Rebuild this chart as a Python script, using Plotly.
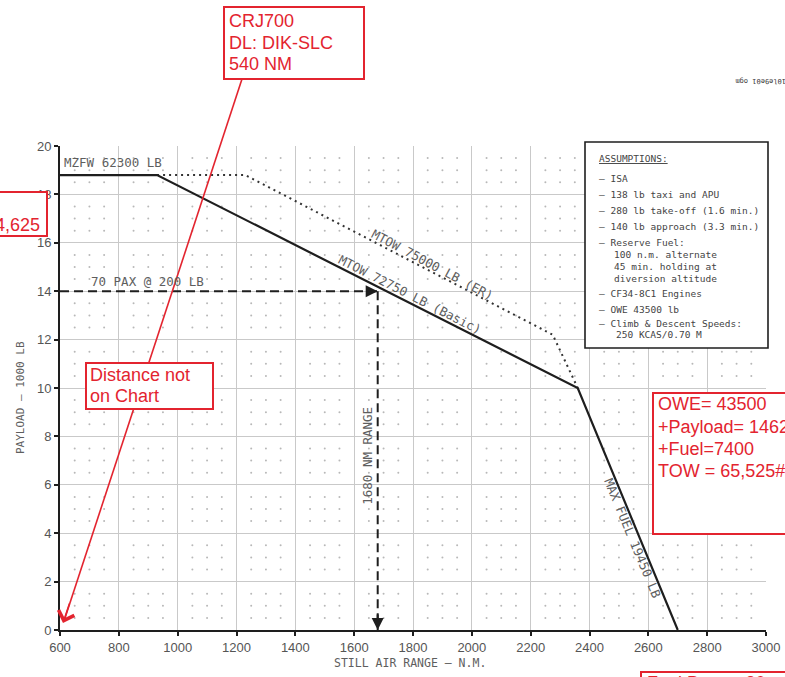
import plotly.graph_objects as go

# Payload-range envelope, basic MTOW 72750 lb
basic_range_nm = [600, 930, 2360, 2700]
basic_payload_klb = [18.8, 18.8, 10.0, 0.0]

# Payload-range envelope, ER MTOW 75000 lb
er_range_nm = [930, 1230, 2275, 2360]
er_payload_klb = [18.8, 18.8, 12.2, 10.0]

# 70 passengers at 200 lb each, read across to range
pax_payload_klb = 14.0
pax_range_nm = 1680

x_ticks = list(range(600, 3001, 200))
y_ticks = list(range(0, 21, 2))

assumption_lines = [
    ("<u>ASSUMPTIONS:</u>", 597, 158),
    ("– ISA", 597, 178),
    ("– 138 lb taxi and APU", 597, 194),
    ("– 280 lb take-off (1.6 min.)", 597, 210),
    ("– 140 lb approach (3.3 min.)", 597, 226),
    ("– Reserve Fuel:", 597, 242),
    ("100 n.m. alternate", 612, 254),
    ("45 min. holding at", 612, 266),
    ("diversion altitude", 612, 278),
    ("– CF34-8C1 Engines", 597, 293),
    ("– OWE 43500 lb", 597, 309),
    ("– Climb & Descent Speeds:", 597, 323),
    ("250 KCAS/0.70 M", 614, 334),
]

W, H = 785, 677
L, R, T, B = 60, 766, 146, 630
RED = "#e3242f"
CAD_FONT = "DejaVu Sans Mono"
CAD_GREY = "#5e5e5e"


def px(xp):
    return (xp - L) / (R - L)


def py(yp):
    return (B - yp) / (B - T)


fig = go.Figure()

# background dot grid every 50 NM / 500 lb between the major lines
dot_x, dot_y = [], []
for xv in range(650, 3000, 50):
    if (xv - 600) % 200 == 0:
        continue
    for k in range(1, 40):
        if k % 4 == 0:
            continue
        dot_x.append(xv)
        dot_y.append(k / 2)
fig.add_trace(go.Scatter(x=dot_x, y=dot_y, mode="markers",
                         marker=dict(size=2, color="#b8b8b8"),
                         hoverinfo="skip", showlegend=False))

fig.add_trace(go.Scatter(x=er_range_nm, y=er_payload_klb, mode="lines",
                         line=dict(color="#333", width=2, dash="2px,4px"),
                         showlegend=False))
fig.add_trace(go.Scatter(x=basic_range_nm, y=basic_payload_klb, mode="lines",
                         line=dict(color="#1e1e1e", width=2.2),
                         showlegend=False))

# 70 PAX read-across
fig.add_trace(go.Scatter(x=[600, pax_range_nm], y=[pax_payload_klb, pax_payload_klb],
                         mode="lines", line=dict(color="#1e1e1e", width=2, dash="9px,5px"),
                         showlegend=False))
fig.add_trace(go.Scatter(x=[pax_range_nm, pax_range_nm], y=[pax_payload_klb, 0],
                         mode="lines", line=dict(color="#1e1e1e", width=2, dash="9px,5px"),
                         showlegend=False))

shapes = []
# assumptions panel
shapes.append(dict(type="rect", xref="paper", yref="paper",
                   x0=px(585), x1=px(768), y0=py(348), y1=py(142),
                   line=dict(color="#1e1e1e", width=1.6), fillcolor="white", layer="above"))
# red pointer line
shapes.append(dict(type="line", xref="paper", yref="paper",
                   x0=px(242), y0=py(79), x1=px(65), y1=py(618),
                   line=dict(color=RED, width=1.6), layer="above"))


def red_box(x0, y0, x1, y1):
    shapes.append(dict(type="rect", xref="paper", yref="paper",
                       x0=px(x0), x1=px(x1), y0=py(y1), y1=py(y0),
                       line=dict(color=RED, width=2), fillcolor="white", layer="above"))


red_box(224, 7, 364, 79)
red_box(86, 363, 213, 409)
red_box(-20, 192, 47, 236)
red_box(653, 393, 900, 534)
red_box(641, 672, 900, 720)

ann = []


def cad_label(text, x, y, angle=0, size=12.5, xanchor="center"):
    ann.append(dict(text=text, x=x, y=y, xref="x", yref="y", showarrow=False,
                    textangle=angle, xanchor=xanchor, yanchor="middle",
                    font=dict(family=CAD_FONT, size=size, color=CAD_GREY)))


cad_label("MZFW 62300 LB", 607, 19.32, xanchor="left")
cad_label("70 PAX @ 200 LB", 896, 14.42)
cad_label("MTOW 75000 LB (ER)", 1865, 15.12, angle=28)
cad_label("MTOW 72750 LB (Basic)", 1790, 13.86, angle=27)
cad_label("MAX FUEL 19450 LB", 2548, 3.8, angle=67.5)
cad_label("1680 NM RANGE", 1647, 7.2, angle=-90)

# arrowheads on the read-across
ann.append(dict(x=pax_range_nm, y=pax_payload_klb, ax=pax_range_nm - 40, ay=pax_payload_klb,
                axref="x", ayref="y", xref="x", yref="y", text="", showarrow=True,
                arrowhead=2, arrowsize=1.2, arrowwidth=2, arrowcolor="#1e1e1e"))
ann.append(dict(x=pax_range_nm, y=0, ax=pax_range_nm, ay=0.7,
                axref="x", ayref="y", xref="x", yref="y", text="", showarrow=True,
                arrowhead=2, arrowsize=1.2, arrowwidth=2, arrowcolor="#1e1e1e"))

# axis titles
ann.append(dict(text="PAYLOAD – 1000 LB", x=px(20), y=py(398), xref="paper", yref="paper",
                xanchor="center", yanchor="middle", showarrow=False, textangle=-90,
                font=dict(family=CAD_FONT, size=11, color=CAD_GREY)))
ann.append(dict(text="STILL AIR RANGE – N.M.", x=px(410), y=py(663), xref="paper", yref="paper",
                xanchor="center", yanchor="middle", showarrow=False,
                font=dict(family=CAD_FONT, size=11.5, color=CAD_GREY)))

for text, xp, yp in assumption_lines:
    ann.append(dict(text=text, x=px(xp), y=py(yp), xref="paper", yref="paper",
                    xanchor="left", yanchor="middle", showarrow=False,
                    font=dict(family=CAD_FONT, size=9.5, color="#444")))

# drawing reference code, printed upside down
ann.append(dict(text="10le9e01 ogm", x=px(761), y=py(81), xref="paper", yref="paper",
                xanchor="center", yanchor="middle", showarrow=False, textangle=180,
                font=dict(family=CAD_FONT, size=7, color="#333")))


def red_text(text, xp, yp, xanchor="left"):
    ann.append(dict(text=text, x=px(xp), y=py(yp), xref="paper", yref="paper",
                    xanchor=xanchor, yanchor="middle", showarrow=False,
                    font=dict(family="Liberation Sans", size=18, color=RED)))


red_text("CRJ700", 227, 21)
red_text("DL: DIK-SLC", 227, 43)
red_text("540 NM", 227, 64)
red_text("Distance not", 88, 375)
red_text("on Chart", 88, 396)
red_text("14,625", 42, 225, xanchor="right")
red_text("OWE= 43500", 656, 404)
red_text("+Payload= 14625", 656, 427)
red_text("+Fuel=7400", 656, 449)
red_text("TOW = 65,525#", 656, 471)
red_text("Fuel Burn = 30", 645, 683)

# arrowhead at the end of the red pointer
ann.append(dict(x=px(63), y=py(623), xref="paper", yref="paper", text="", showarrow=True,
                ax=7, ay=-21, arrowhead=4, arrowsize=2, arrowwidth=1.6,
                arrowcolor=RED, standoff=0))

axis_common = dict(showgrid=True, gridcolor="#c9c9c9", gridwidth=1, zeroline=False,
                   showline=True, linecolor="#1e1e1e", linewidth=2, automargin=False,
                   ticks="outside", ticklen=4, tickcolor="#1e1e1e", tickwidth=1.5,
                   tickfont=dict(family="Liberation Sans", size=13, color="#555"))

fig.update_layout(
    width=W, height=H, autosize=False,
    margin=dict(l=L, r=W - R, t=T, b=H - B, pad=0),
    paper_bgcolor="white", plot_bgcolor="white",
    xaxis=dict(range=[600, 3000], tickvals=x_ticks, **axis_common),
    yaxis=dict(range=[0, 20], tickvals=y_ticks, **axis_common),
    shapes=shapes, annotations=ann, showlegend=False,
)

fig.write_html("out.html")
